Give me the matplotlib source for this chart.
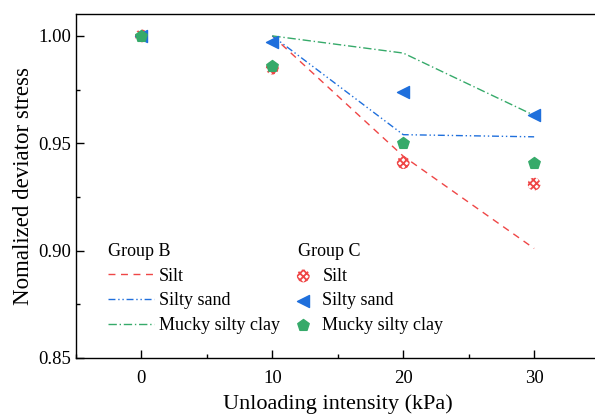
import numpy as np
import matplotlib as mpl
mpl.use("Agg")
import matplotlib.pyplot as plt
from matplotlib.ticker import MultipleLocator

plt.rcParams.update(
    {
        "font.family": "serif",
        "font.serif": ["Liberation Serif", "DejaVu Serif"],
        "font.size": 12,
        "xtick.direction": "in",
        "ytick.direction": "in",
        "axes.linewidth": 1.0,
        "hatch.linewidth": 1.3,
    }
)

# Group B (fitted lines)
x_line = [10, 20, 30]
b_silt = [1.000, 0.944, 0.901]
b_sand = [1.000, 0.954, 0.953]
b_clay = [1.000, 0.992, 0.963]

# Group C (measured points)
x_pts = [0, 10, 20, 30]
c_silt = [1.000, 0.985, 0.941, 0.931]
c_sand = [1.000, 0.997, 0.974, 0.963]
c_clay = [1.000, 0.986, 0.950, 0.941]

RED = "#EF4646"
BLUE = "#1F6FDC"
GREEN = "#36AA6A"

fig = plt.figure(figsize=(5.95, 4.19), dpi=100)
ax = fig.add_axes([0.1277, 0.1456, 0.88, 0.821])

l1, = ax.plot(x_line, b_silt, color=RED, lw=1, ls=(0, (5, 4)), label="Silt")
l2, = ax.plot(x_line, b_sand, color=BLUE, lw=1, ls=(0, (5, 2, 1, 2, 1, 2)), label="Silty sand")
l3, = ax.plot(x_line, b_clay, color=GREEN, lw=1, ls=(0, (6, 2, 1, 2)), label="Mucky silty clay")

s1 = ax.scatter(x_pts, c_silt, marker="o", s=85, facecolor="none",
                edgecolor=RED, hatch="xxxxx", linewidth=0, label="Silt", zorder=3)
s2 = ax.scatter(x_pts, c_sand, marker="<", s=75, color=BLUE, label="Silty sand", zorder=3)
s3 = ax.scatter(x_pts, c_clay, marker="p", s=75, color=GREEN, label="Mucky silty clay", zorder=4)

ax.set_xlim(-5, 35)
ax.set_ylim(0.85, 1.0102)
ax.xaxis.set_major_locator(MultipleLocator(10))
ax.xaxis.set_minor_locator(MultipleLocator(5))
ax.yaxis.set_major_locator(MultipleLocator(0.05))
ax.yaxis.set_minor_locator(MultipleLocator(0.025))
ax.yaxis.set_major_formatter(mpl.ticker.FormatStrFormatter("%.2f"))
ax.tick_params(which="major", length=6, width=1, labelsize=13.5)
ax.tick_params(which="minor", length=3, width=1)
ax.tick_params(axis="x", pad=9)

ax.set_xlabel("Unloading intensity (kPa)", fontsize=16, labelpad=5)
ax.set_ylabel("Nomalized deviator stress", fontsize=16.5, labelpad=3)

leg1 = ax.legend(handles=[l1, l2, l3], title="Group B", loc="upper left",
                 bbox_to_anchor=(0.048, 0.355), frameon=False, handlelength=2.55,
                 handletextpad=0.25, labelspacing=0.42, fontsize=13,
                 title_fontsize=13, alignment="left", borderaxespad=0)
ax.add_artist(leg1)
ax.legend(handles=[s1, s2, s3], title="Group C", loc="upper left",
          bbox_to_anchor=(0.41, 0.355), frameon=False, handlelength=0.6,
          handletextpad=0.75, labelspacing=0.42, fontsize=13,
          title_fontsize=13, alignment="left", borderaxespad=0)

fig.savefig("out.png", dpi=100)
